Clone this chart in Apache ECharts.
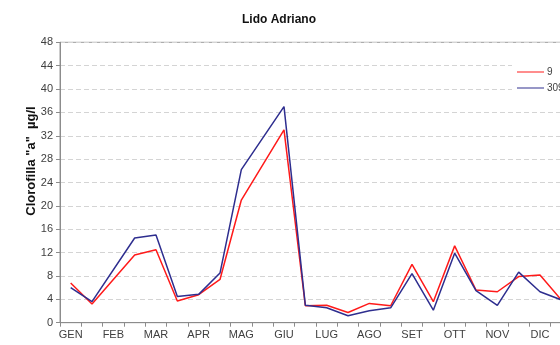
<!DOCTYPE html>
<html>
<head>
<meta charset="utf-8">
<script src="https://cdn.jsdelivr.net/npm/echarts@6/dist/echarts.min.js"></script>
<style>
  html, body { margin: 0; padding: 0; background: #fff; }
  #chart { width: 560px; height: 345px; }
</style>
</head>
<body>
<div id="chart"></div>
<script>
// Month labels (two sampling slots per month)
const months = ['GEN', 'FEB', 'MAR', 'APR', 'MAG', 'GIU', 'LUG', 'AGO', 'SET', 'OTT', 'NOV', 'DIC'];

// Chlorophyll "a" (µg/l) per sampling slot; null = no sample (line is joined across)
const station9 = [6.8, 3.2, null, 11.6, 12.5, 3.7, 4.8, 7.4, 21.0, null, 33.0, 2.9,
                  3.0, 1.75, 3.3, 2.9, 10.0, 3.6, 13.15, 5.6, 5.3, 7.9, 8.15, 3.9];
const station309 = [6.0, 3.6, null, 14.5, 15.0, 4.5, 4.85, 8.5, 26.2, null, 37.0, 3.0,
                    2.55, 1.2, 2.05, 2.55, 8.4, 2.15, 11.9, 5.5, 2.95, 8.65, 5.3, 3.9];

const yTicks = { min: 0, max: 48, interval: 4 };

const categories = [];
months.forEach(m => { categories.push(m); categories.push(''); });

const chart = echarts.init(document.getElementById('chart'), null, { renderer: 'canvas' });

const axisGray = '#8c8c8c';
const textColor = '#404040';

chart.setOption({
  animation: false,
  textStyle: { fontFamily: 'Liberation Sans, Arial, sans-serif' },
  title: {
    text: 'Lido Adriano',
    left: 237,
    top: 9,
    textStyle: { fontSize: 12, fontWeight: 'bold', color: '#111', fontFamily: 'Liberation Sans, Arial, sans-serif' }
  },
  legend: {
    orient: 'vertical',
    left: 512,
    top: 61,
    padding: [6, 5, 6, 5],
    backgroundColor: '#fff',
    itemWidth: 27,
    itemHeight: 10,
    itemGap: 6,
    icon: 'path://M0,4.5L27,4.5L27,5.5L0,5.5Z',
    textStyle: { fontSize: 10, color: textColor, padding: [0, 0, 0, -2] },
    data: ['9', '309']
  },
  graphic: [{
    type: 'text',
    x: 31,
    y: 161,
    rotation: Math.PI / 2,
    style: {
      text: 'Clorofilla "a"  µg/l',
      fill: '#111',
      font: 'bold 13px "Liberation Sans", Arial, sans-serif',
      textAlign: 'center',
      textVerticalAlign: 'middle'
    }
  }],
  grid: {
    left: 60,
    top: 42.3,
    width: 512,
    height: 280.4,
    outerBoundsMode: 'none',
    show: true,
    borderColor: '#999',
    borderWidth: 1,
    backgroundColor: 'transparent',
    containLabel: false
  },
  xAxis: {
    type: 'category',
    data: categories,
    boundaryGap: true,
    axisLine: { show: true, lineStyle: { color: axisGray, width: 1 } },
    axisTick: { show: true, interval: 0, length: 4, lineStyle: { color: axisGray } },
    axisLabel: { interval: 0, color: textColor, fontSize: 11, margin: 7 },
    splitLine: { show: false }
  },
  yAxis: {
    type: 'value',
    min: yTicks.min,
    max: yTicks.max,
    interval: yTicks.interval,
    axisLine: { show: true, lineStyle: { color: axisGray, width: 1 } },
    axisTick: { show: true, length: 4, lineStyle: { color: axisGray } },
    axisLabel: { color: textColor, fontSize: 11, margin: 7 },
    splitLine: { show: true, lineStyle: { color: '#d4d4d4', type: [5, 3], width: 1 } }
  },
  series: [
    {
      name: '9',
      type: 'line',
      data: station9,
      connectNulls: true,
      symbol: 'none',
      lineStyle: { color: '#ff1a1a', width: 1.5 },
      itemStyle: { color: '#ff1a1a' },
      z: 3
    },
    {
      name: '309',
      type: 'line',
      data: station309,
      connectNulls: true,
      symbol: 'none',
      lineStyle: { color: '#2e2e8f', width: 1.5 },
      itemStyle: { color: '#2e2e8f' },
      z: 4
    }
  ]
});
</script>
</body>
</html>
